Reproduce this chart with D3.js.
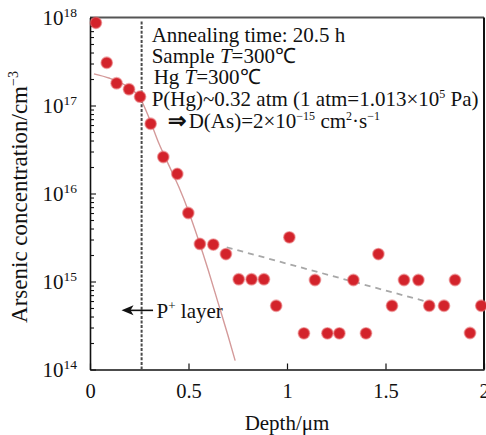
<!DOCTYPE html>
<html>
<head>
	<script src='https://d3js.org/d3.v7.min.js'></script>
	<style type="text/css">
		body { margin: 0; background: #fff; }
		text { font-family: 'Liberation Serif', 'Times New Roman', serif; fill: #111; }
	</style>
</head>
<body>
	<script type="text/javascript">
		// measured points (depth in um, As concentration in cm^-3)
		var depth = [0.03, 0.085, 0.135, 0.198, 0.254, 0.308, 0.372, 0.443, 0.499, 0.558, 0.626, 0.69,
			0.755, 0.82, 0.883, 0.945, 1.012, 1.086, 1.142, 1.205, 1.266, 1.337, 1.401, 1.464,
			1.533, 1.594, 1.667, 1.722, 1.797, 1.853, 1.929, 1.986];
		var conc = [8.7e17, 3.06e17, 1.79e17, 1.53e17, 1.26e17, 6.2e16, 2.6e16, 1.67e16, 6.0e15, 2.67e15, 2.63e15, 2.05e15,
			1.06e15, 1.06e15, 1.06e15, 5.3e14, 3.18e15, 2.58e14, 1.04e15, 2.58e14, 2.58e14, 1.04e15, 2.58e14, 2.05e15,
			5.3e14, 1.04e15, 1.04e15, 5.3e14, 5.3e14, 1.04e15, 2.6e14, 5.3e14];

		// fitted diffusion profile
		var fitDepth = [0.02, 0.10, 0.15, 0.20, 0.25, 0.30, 0.35, 0.40, 0.45, 0.50, 0.55, 0.60, 0.65, 0.70, 0.737];
		var fitConc = [2.29e17, 2.04e17, 1.84e17, 1.58e17, 1.26e17, 7.2e16, 3.7e16, 2.1e16, 1.2e16, 6.3e15, 3.0e15, 1.35e15, 5.75e14, 2.45e14, 1.26e14];

		// background trend (dashed)
		var tailDepth = [0.694, 1.709];
		var tailConc = [2.45e15, 5.9e14];

		var xTicks = [0, 0.5, 1, 1.5, 2];
		var xTickLabels = ['0', '0.5', '1', '1.5', '2'];
		var yTicks = [1e14, 1e15, 1e16, 1e17, 1e18];
		var yExp = ['14', '15', '16', '17', '18'];

		var pLayer = 0.262;

		var dim = { w: 486, h: 435 };
		var plot = { left: 90, right: 484, top: 17.5, bottom: 369.5 };

		var svg = d3.select('body')
			.append('svg')
				.attr('width', dim.w)
				.attr('height', dim.h);

		var x = d3.scaleLinear()
				.domain([0, 2])
				.range([plot.left, plot.right]),
			y = d3.scaleLog()
				.domain([1e14, 1e18])
				.range([plot.bottom, plot.top]);

		svg.append('clipPath')
			.attr('id', 'clip')
			.append('rect')
				.attr('x', plot.left)
				.attr('y', plot.top)
				.attr('width', plot.right - plot.left + 6)
				.attr('height', plot.bottom - plot.top);

		/** frame **/
		svg.append('line')
			.attr('x1', plot.left).attr('x2', plot.right)
			.attr('y1', plot.top).attr('y2', plot.top)
			.attr('stroke', '#555').attr('stroke-width', 2);
		svg.append('line')
			.attr('x1', plot.right).attr('x2', plot.right)
			.attr('y1', plot.top).attr('y2', plot.bottom)
			.attr('stroke', '#111').attr('stroke-width', 2);

		/** x axis **/
		var xAxis = svg.append('g')
			.attr('transform', 'translate(0,' + plot.bottom + ')')
			.call(d3.axisBottom(x)
				.tickValues(xTicks)
				.tickSize(-6)
				.tickSizeOuter(0)
				.tickPadding(14)
				.tickFormat(function(d, i) { return xTickLabels[i]; }));
		xAxis.select('.domain').attr('stroke', '#111').attr('stroke-width', 1.6);
		xAxis.selectAll('.tick line').attr('stroke', '#111').attr('stroke-width', 1.2);
		xAxis.selectAll('.tick text')
			.attr('font-size', 20.5)
			.attr('fill', '#111');

		/** y axis with minor ticks **/
		var minor = [];
		for (var e = 14; e < 18; e++) {
			for (var m = 2; m < 10; m++) minor.push(m * Math.pow(10, e));
		}
		var yAxis = svg.append('g')
			.attr('transform', 'translate(' + plot.left + ',0)')
			.call(d3.axisLeft(y)
				.tickValues(yTicks.concat(minor))
				.tickSize(-6)
				.tickSizeOuter(0)
				.tickFormat(''));
		yAxis.select('.domain').attr('stroke', '#111').attr('stroke-width', 1.6);
		yAxis.selectAll('.tick line')
			.attr('stroke', '#111')
			.attr('stroke-width', 1.1)
			.attr('x2', function(d) { return yTicks.indexOf(d) >= 0 ? 6 : 4; });

		var yLab = svg.append('g').selectAll('text')
			.data(yTicks).enter()
			.append('text')
				.attr('x', plot.left - 13)
				.attr('y', function(d) { return y(d) + 7; })
				.attr('text-anchor', 'end')
				.attr('font-size', 21);
		yLab.append('tspan').text('10');
		yLab.append('tspan')
			.attr('font-size', 13.5)
			.attr('dy', -8)
			.text(function(d, i) { return yExp[i]; });

		/** axis titles **/
		svg.append('text')
			.attr('x', x(1))
			.attr('y', 430)
			.attr('text-anchor', 'middle')
			.attr('font-size', 21)
			.text('Depth/\u03bcm');

		var yTitle = svg.append('text')
			.attr('transform', 'translate(27,' + 197 + ') rotate(-90)')
			.attr('text-anchor', 'middle')
			.attr('font-size', 23);
		yTitle.append('tspan').text('Arsenic concentration/cm');
		yTitle.append('tspan').attr('font-size', 14).attr('dy', -9).text('\u22123');

		var g = svg.append('g').attr('clip-path', 'url(#clip)');

		/** fit curve **/
		var fit = fitDepth.map(function(d, i) { return [d, fitConc[i]]; });
		g.append('path')
			.datum(fit)
			.attr('fill', 'none')
			.attr('stroke', '#d49a9a')
			.attr('stroke-width', 1.4)
			.attr('d', d3.line()
				.x(function(d) { return x(d[0]); })
				.y(function(d) { return y(d[1]); })
				.curve(d3.curveMonotoneX));

		/** tail trend **/
		var tail = tailDepth.map(function(d, i) { return [d, tailConc[i]]; });
		g.append('path')
			.datum(tail)
			.attr('fill', 'none')
			.attr('stroke', '#a8a8a8')
			.attr('stroke-width', 1.8)
			.attr('stroke-dasharray', '6,5')
			.attr('d', d3.line()
				.x(function(d) { return x(d[0]); })
				.y(function(d) { return y(d[1]); }));

		/** P+ layer boundary **/
		g.append('line')
			.attr('x1', x(pLayer)).attr('x2', x(pLayer))
			.attr('y1', plot.top + 4).attr('y2', plot.bottom)
			.attr('stroke', '#4a4a4a')
			.attr('stroke-width', 2)
			.attr('stroke-dasharray', '3,1.6');

		/** data points **/
		var pts = depth.map(function(d, i) { return [d, conc[i]]; });
		svg.append('g').selectAll('circle')
			.data(pts).enter()
			.append('circle')
				.attr('cx', function(d) { return x(d[0]); })
				.attr('cy', function(d) { return y(d[1]); })
				.attr('r', 5.6)
				.attr('fill', '#d3232b')
				.attr('stroke', '#e66a6e')
				.attr('stroke-opacity', 0.55)
				.attr('stroke-width', 1.6);

		/** P+ layer arrow **/
		var ay = y(4.7e14);
		svg.append('line')
			.attr('x1', x(0.32)).attr('x2', x(0.19))
			.attr('y1', ay).attr('y2', ay)
			.attr('stroke', '#111').attr('stroke-width', 1.6);
		svg.append('path')
			.attr('d', 'M' + x(0.16) + ',' + ay + 'l12,-5l-3,5l3,5z')
			.attr('fill', '#111');
		var pl = svg.append('text')
			.attr('x', x(0.338))
			.attr('y', ay + 8)
			.attr('font-size', 21);
		pl.append('tspan').text('P');
		pl.append('tspan').attr('font-size', 13).attr('dy', -8).text('+');
		pl.append('tspan').attr('dy', 8).text(' layer');

		/** annotation block **/
		var ax = x(0.313);
		var note = svg.append('g').attr('font-size', 21);
		note.append('text').attr('x', ax).attr('y', 41.5).text('Annealing time: 20.5 h');

		var t2 = note.append('text').attr('x', ax).attr('y', 63);
		t2.append('tspan').text('Sample ');
		t2.append('tspan').attr('font-style', 'italic').text('T');
		t2.append('tspan').text('=300\u2103');

		var t3 = note.append('text').attr('x', ax + 2).attr('y', 84);
		t3.append('tspan').text('Hg ');
		t3.append('tspan').attr('font-style', 'italic').text('T');
		t3.append('tspan').text('=300\u2103');

		var t4 = note.append('text').attr('x', ax).attr('y', 106);
		t4.append('tspan').text('P(Hg)~0.32 atm (1 atm=1.013\u00d710');
		t4.append('tspan').attr('font-size', 12).attr('dy', -8).text('5');
		t4.append('tspan').attr('dy', 8).text(' Pa)');

		var t5 = note.append('text').attr('x', ax + 16).attr('y', 127.5);
		t5.append('tspan').attr('font-size', 22).attr('font-weight', 'bold').text('\u21d2');
		t5.append('tspan').attr('dx', 3).text('D(As)=2\u00d710');
		t5.append('tspan').attr('font-size', 12).attr('dy', -8).text('\u221215');
		t5.append('tspan').attr('dy', 8).text(' cm');
		t5.append('tspan').attr('font-size', 12).attr('dy', -8).text('2');
		t5.append('tspan').attr('dy', 8).text('\u00b7s');
		t5.append('tspan').attr('font-size', 12).attr('dy', -8).text('\u22121');
	</script>
</body>
</html>
